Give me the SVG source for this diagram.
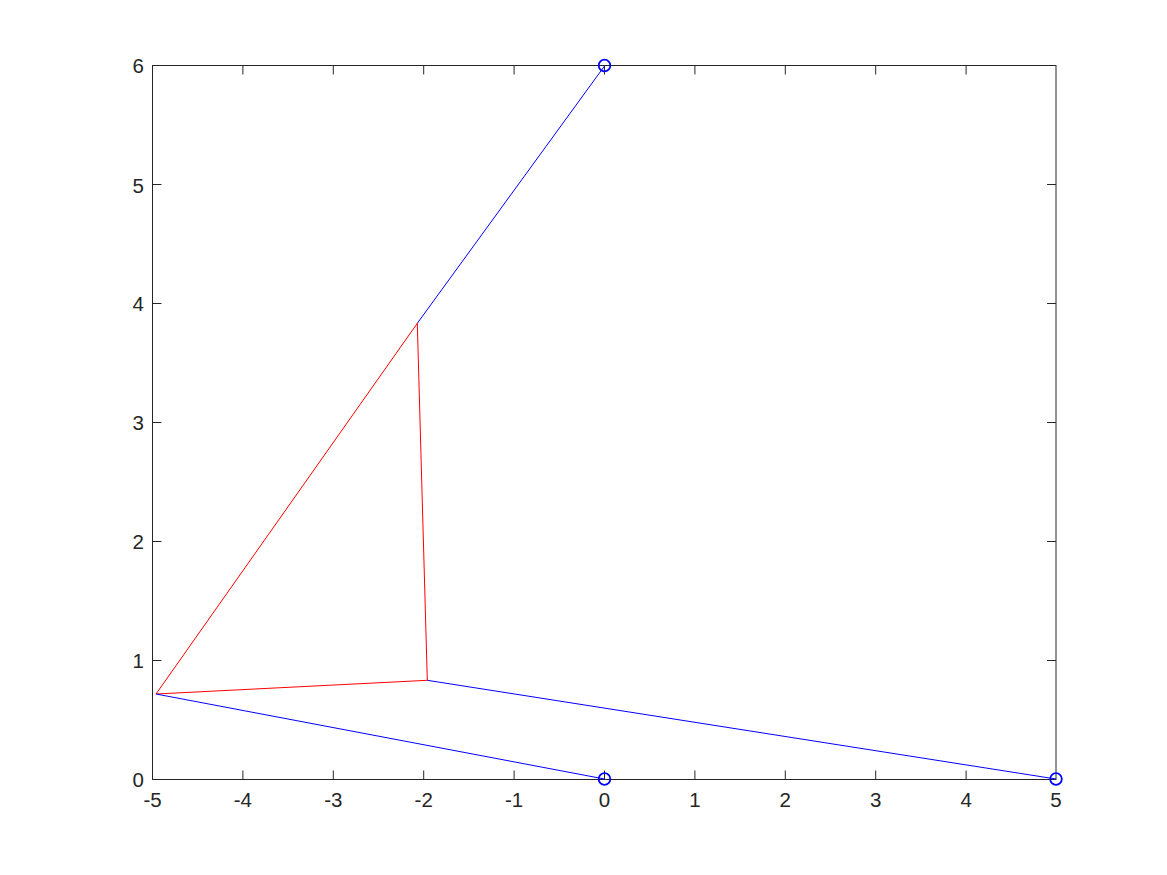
<svg xmlns="http://www.w3.org/2000/svg" width="1167" height="875" viewBox="0 0 1167 875">
<style>
.ax{stroke:#262626;stroke-width:1;fill:none}
.tl{font-family:"Liberation Sans",Arial,sans-serif;font-size:20.5px;fill:#262626}
.b{stroke:#0000ff;stroke-width:1;fill:none}
.r{stroke:#ff0000;stroke-width:1;fill:none}
.m{stroke:#0000ff;stroke-width:1.8;fill:none}
</style>
<rect width="1167" height="875" fill="#ffffff"/>
<g id="axes">
<rect class="ax" x="152.5" y="65.5" width="903.5" height="714"/>
<path class="ax" d="M242.9 779.5v-9M333.3 779.5v-9M423.7 779.5v-9M514.1 779.5v-9M604.5 779.5v-9M694.9 779.5v-9M785.3 779.5v-9M875.7 779.5v-9M966.1 779.5v-9
M242.9 65.5v9M333.3 65.5v9M423.7 65.5v9M514.1 65.5v9M604.5 65.5v9M694.9 65.5v9M785.3 65.5v9M875.7 65.5v9M966.1 65.5v9
M152.5 660.5h9M152.5 541.5h9M152.5 422.5h9M152.5 303.5h9M152.5 184.5h9
M1056 660.5h-9M1056 541.5h-9M1056 422.5h-9M1056 303.5h-9M1056 184.5h-9"/>
<g class="tl" text-anchor="middle">
<text x="152.5" y="807">-5</text>
<text x="242.9" y="807">-4</text>
<text x="333.3" y="807">-3</text>
<text x="423.7" y="807">-2</text>
<text x="514.1" y="807">-1</text>
<text x="604.5" y="807">0</text>
<text x="694.9" y="807">1</text>
<text x="785.3" y="807">2</text>
<text x="875.7" y="807">3</text>
<text x="966.1" y="807">4</text>
<text x="1056" y="807">5</text>
</g>
<g class="tl" text-anchor="end">
<text x="144" y="787">0</text>
<text x="144" y="668">1</text>
<text x="144" y="549">2</text>
<text x="144" y="430">3</text>
<text x="144" y="311">4</text>
<text x="144" y="192.5">5</text>
<text x="144" y="73">6</text>
</g>
</g>
<g id="connectors">
<line class="b" x1="604.5" y1="66" x2="417.3" y2="323.3"/>
<line class="r" x1="417.3" y1="323.3" x2="156" y2="694"/>
<line class="r" x1="417.3" y1="323.3" x2="427.3" y2="680.3"/>
<line class="r" x1="156" y1="694" x2="427.3" y2="680.3"/>
<line class="b" x1="156" y1="694" x2="604.5" y2="779"/>
<line class="b" x1="427.3" y1="680.3" x2="1056" y2="779"/>
</g>
<g id="markers">
<circle class="m" cx="604.5" cy="65.5" r="5.8"/>
<circle class="m" cx="604.5" cy="779" r="5.8"/>
<circle class="m" cx="1056" cy="779" r="5.8"/>
</g>
</svg>
